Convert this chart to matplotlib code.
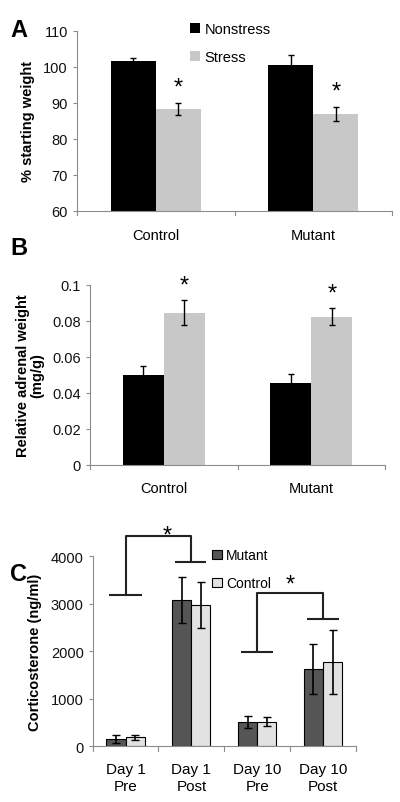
import numpy as np
import matplotlib.pyplot as plt

plt.rcParams['font.family'] = ['Liberation Sans', 'DejaVu Sans']

# panel A: % starting weight
groups = ['Control', 'Mutant']
wt_nonstress = [101.7, 100.6]
wt_nonstress_err = [0.7, 2.8]
wt_stress = [88.3, 87.0]
wt_stress_err = [1.6, 2.0]

# panel B: relative adrenal weight (mg/g)
adr_nonstress = [0.050, 0.0456]
adr_nonstress_err = [0.005, 0.0046]
adr_stress = [0.0845, 0.0822]
adr_stress_err = [0.007, 0.0048]

# panel C: corticosterone (ng/ml)
days = ['Day 1\nPre', 'Day 1\nPost', 'Day 10\nPre', 'Day 10\nPost']
cort_mutant = [150, 3080, 510, 1620]
cort_mutant_err = [80, 490, 130, 530]
cort_control = [190, 2980, 520, 1770]
cort_control_err = [50, 480, 90, 670]

fig = plt.figure(figsize=(4.0, 8.03), dpi=100)

axcol = '#8c8c8c'

def style(ax):
    for s in ['top', 'right']:
        ax.spines[s].set_visible(False)
    ax.spines['left'].set_color(axcol)
    ax.spines['bottom'].set_color(axcol)
    ax.tick_params(axis='y', colors=axcol, labelcolor='#111111', labelsize=10.5, length=3)
    ax.tick_params(axis='x', length=0, labelsize=10.5, pad=12)

def cat_ticks(ax, n):
    # small tick marks between categories like Excel
    for b in np.arange(n + 1) - 0.5:
        ax.plot([b, b], [0, -0.025], transform=ax.get_xaxis_transform(), color=axcol, lw=0.8, clip_on=False)

# ---------- A ----------
axA = fig.add_axes([0.1925, 0.736, 0.7875, 0.2242])
x = np.arange(len(groups))
w = 0.287
axA.bar(x - w / 2, wt_nonstress, w, color='black', label='Nonstress')
axA.bar(x + w / 2, wt_stress, w, color='#c8c8c8', label='Stress')
axA.errorbar(x - w / 2, wt_nonstress, yerr=wt_nonstress_err, fmt='none', ecolor='black', capsize=2.5, lw=1)
axA.errorbar(x + w / 2, wt_stress, yerr=wt_stress_err, fmt='none', ecolor='black', capsize=2.5, lw=1)
axA.set_ylim(60, 110)
axA.set_yticks([60, 70, 80, 90, 100, 110])
axA.set_xlim(-0.5, 1.5)
axA.set_xticks(x)
axA.set_xticklabels(groups)
style(axA)
cat_ticks(axA, 2)
axA.set_ylabel('% starting weight', fontsize=10.5, fontweight='bold', labelpad=6)
for i in range(2):
    axA.text(x[i] + w / 2, wt_stress[i] + wt_stress_err[i] + 1.2, '*', ha='center', va='bottom', fontsize=17)
axA.legend(loc='upper left', bbox_to_anchor=(0.317, 1.124), frameon=False, fontsize=10.5,
           handlelength=0.7, handleheight=0.7, handletextpad=0.3, labelspacing=1.0)
fig.text(0.025, 0.962, 'A', fontsize=17, fontweight='bold', va='center')

# ---------- B ----------
axB = fig.add_axes([0.225, 0.42, 0.7375, 0.2242])
w = 0.278
axB.bar(x - w / 2, adr_nonstress, w, color='black')
axB.bar(x + w / 2, adr_stress, w, color='#c8c8c8')
axB.errorbar(x - w / 2, adr_nonstress, yerr=adr_nonstress_err, fmt='none', ecolor='black', capsize=2.5, lw=1)
axB.errorbar(x + w / 2, adr_stress, yerr=adr_stress_err, fmt='none', ecolor='black', capsize=2.5, lw=1)
axB.set_ylim(0, 0.1)
axB.set_yticks([0, 0.02, 0.04, 0.06, 0.08, 0.1])
axB.set_yticklabels(['0', '0.02', '0.04', '0.06', '0.08', '0.1'])
axB.set_xlim(-0.5, 1.5)
axB.set_xticks(x)
axB.set_xticklabels(groups)
style(axB)
cat_ticks(axB, 2)
axB.set_ylabel('Relative adrenal weight\n(mg/g)', fontsize=10.5, fontweight='bold', labelpad=6, linespacing=1.0)
axB.text(x[0] + w / 2, 0.0935, '*', ha='center', va='bottom', fontsize=17)
axB.text(x[1] + w / 2, 0.089, '*', ha='center', va='bottom', fontsize=17)
fig.text(0.025, 0.69, 'B', fontsize=17, fontweight='bold', va='center')

# ---------- C ----------
axC = fig.add_axes([0.2317, 0.0694, 0.658, 0.2366])
xc = np.arange(len(days))
w = 0.29
axC.bar(xc - w / 2, cort_mutant, w, color='#555555', edgecolor='black', lw=0.8, label='Mutant')
axC.bar(xc + w / 2, cort_control, w, color='#e2e2e2', edgecolor='black', lw=0.8, label='Control')
axC.errorbar(xc - w / 2, cort_mutant, yerr=cort_mutant_err, fmt='none', ecolor='black', capsize=3, lw=1.2)
axC.errorbar(xc + w / 2, cort_control, yerr=cort_control_err, fmt='none', ecolor='black', capsize=3, lw=1.2)
axC.set_ylim(0, 4000)
axC.set_yticks([0, 1000, 2000, 3000, 4000])
axC.set_xlim(-0.5, 3.5)
axC.set_xticks(xc)
axC.set_xticklabels(days, linespacing=1.3)
style(axC)
axC.tick_params(axis='x', pad=11, labelsize=11)
cat_ticks(axC, 4)
axC.set_ylabel('Corticosterone (ng/ml)', fontsize=10.5, fontweight='bold', labelpad=6)

bk = dict(color='#222222', lw=1.5, clip_on=False, solid_capstyle='butt')
# Day 1 bracket
axC.plot([-0.25, 0.25], [3175, 3175], **bk)
axC.plot([1 - 0.25, 1 + 0.22], [3890, 3890], **bk)
axC.plot([0.0, 0.0, 1.0, 1.0], [3175, 4430, 4430, 3890], **bk)
axC.text(0.64, 4430, '*', ha='center', va='center', fontsize=17, clip_on=False)
# Day 10 bracket
axC.plot([2 - 0.25, 2 + 0.24], [1979, 1979], **bk)
axC.plot([3 - 0.25, 3 + 0.24], [2680, 2680], **bk)
axC.plot([2.0, 2.0, 3.0, 3.0], [1979, 3221, 3221, 2680], **bk)
axC.text(2.5, 3400, '*', ha='center', va='center', fontsize=17)
axC.legend(loc='upper left', bbox_to_anchor=(0.407, 1.107), frameon=False, fontsize=10,
           handlelength=0.7, handleheight=0.7, handletextpad=0.3, labelspacing=1.0)
fig.text(0.025, 0.285, 'C', fontsize=17, fontweight='bold', va='center')

fig.savefig('out.png', dpi=100)
